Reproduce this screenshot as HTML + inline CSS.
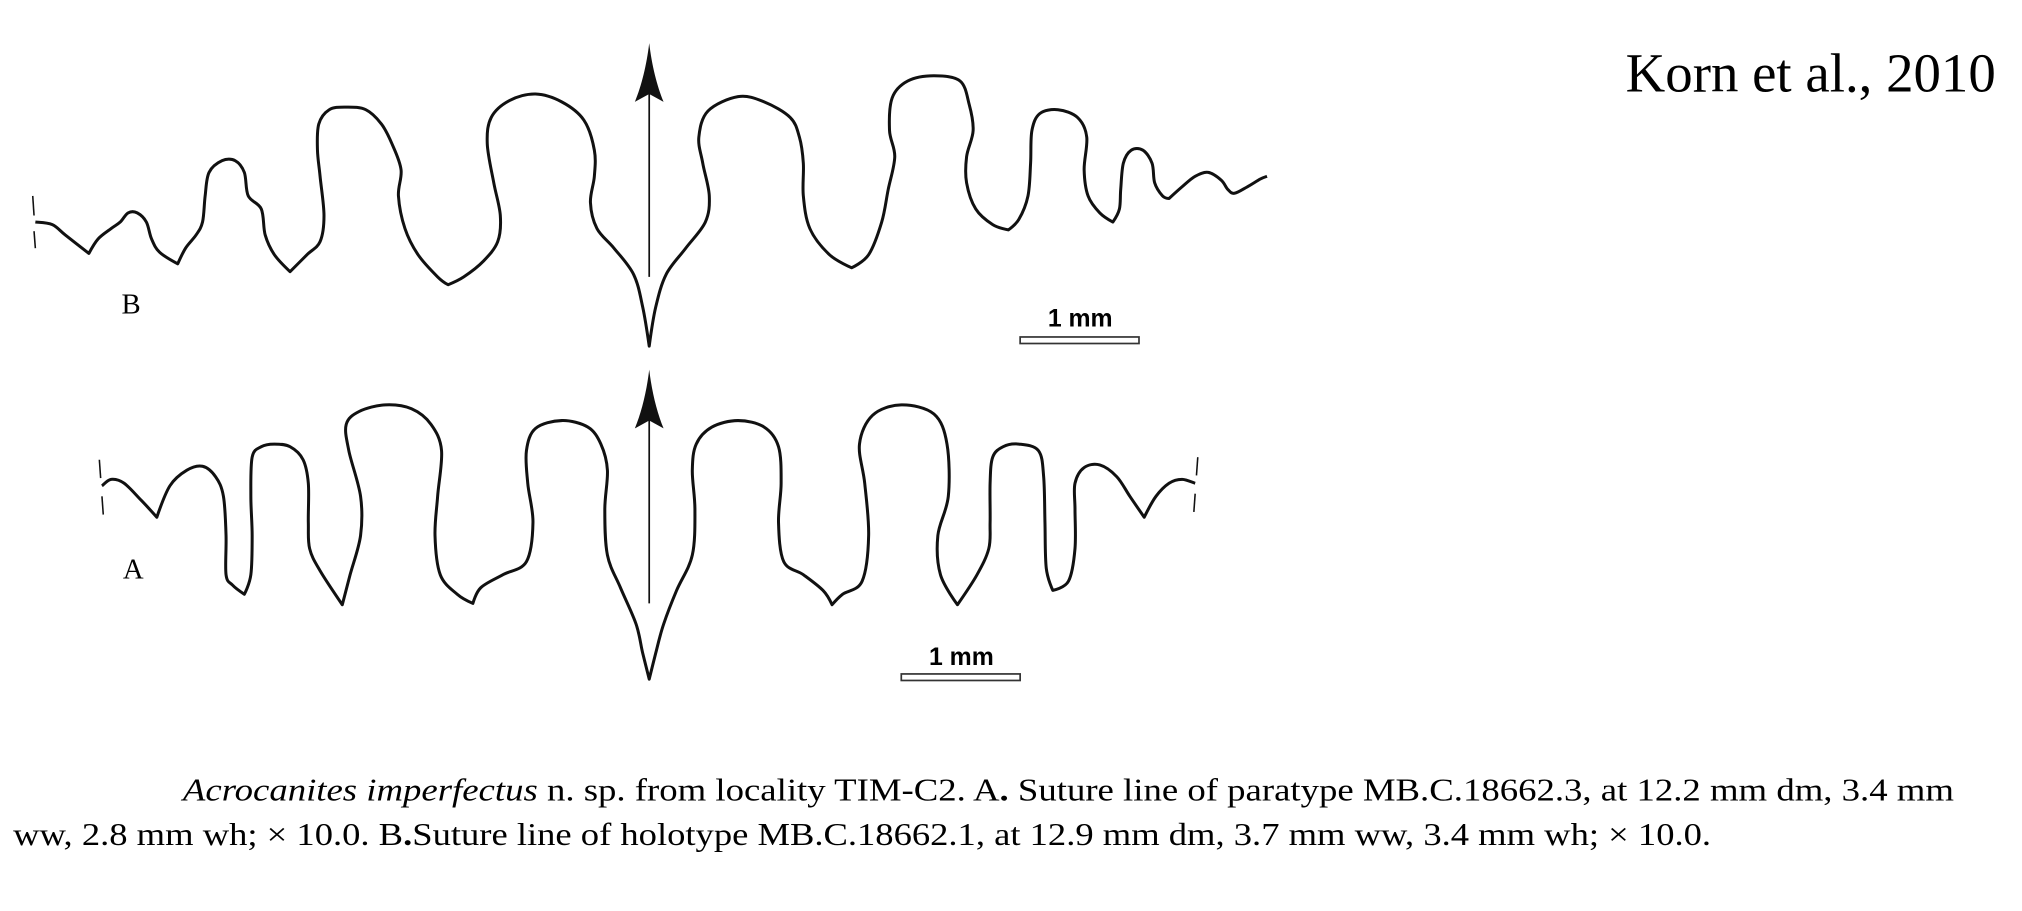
<!DOCTYPE html>
<html><head><meta charset="utf-8">
<style>
html,body{margin:0;padding:0;background:#fff;}
svg{display:block;}
</style></head>
<body>
<svg id="fig" width="2022" height="911" viewBox="0 0 1548 697.5" xmlns="http://www.w3.org/2000/svg">
<text x="1528" y="70" text-anchor="end" font-family="Liberation Serif, serif" font-size="42">Korn et al., 2010</text>
<text x="93" y="240" font-family="Liberation Serif, serif" font-size="22">B</text>
<text x="94" y="443" font-family="Liberation Serif, serif" font-size="22">A</text>
<g id="curves" fill="none" stroke="#111" stroke-width="2.3" stroke-linejoin="round"></g>
<g>
<line x1="497" y1="212" x2="497" y2="60" stroke="#111" stroke-width="1.3"/>
<path d="M497 33 C499 50 503 66 508 78 L497 72 L486 78 C491 66 495 50 497 33 Z" fill="#111"/>
</g>
<g>
<line x1="497" y1="462" x2="497" y2="310" stroke="#111" stroke-width="1.3"/>
<path d="M497 283 C499 300 503 316 508 328 L497 322 L486 328 C491 316 495 300 497 283 Z" fill="#111"/>
</g>
<g>
<text x="827" y="250" text-anchor="middle" font-family="Liberation Sans, sans-serif" font-weight="bold" font-size="19">1 mm</text>
<rect x="781" y="258" width="91" height="5" fill="#fff" stroke="#333" stroke-width="1.3"/>
</g>
<g>
<text x="736" y="509" text-anchor="middle" font-family="Liberation Sans, sans-serif" font-weight="bold" font-size="19">1 mm</text>
<rect x="690" y="516" width="91" height="5" fill="#fff" stroke="#333" stroke-width="1.3"/>
</g>
<g stroke="#111" stroke-width="1.2">
<line x1="25" y1="150" x2="26" y2="165"/><line x1="26" y1="177" x2="27" y2="190"/>
<line x1="76" y1="352" x2="77" y2="366"/><line x1="78" y1="380" x2="79" y2="394"/>
<line x1="917" y1="350" x2="916" y2="364"/><line x1="915" y1="378" x2="914" y2="392"/>
</g>
<text x="140" y="613" font-family="Liberation Serif, serif" font-size="24" textLength="1356" lengthAdjust="spacingAndGlyphs"><tspan font-style="italic">Acrocanites imperfectus</tspan> n. sp. from locality TIM-C2. A<tspan font-weight="bold">.</tspan> Suture line of paratype MB.C.18662.3, at 12.2 mm dm, 3.4 mm</text>
<text x="10" y="647" font-family="Liberation Serif, serif" font-size="24" textLength="1300" lengthAdjust="spacingAndGlyphs">ww, 2.8 mm wh; × 10.0. B<tspan font-weight="bold">.</tspan>Suture line of holotype MB.C.18662.1, at 12.9 mm dm, 3.7 mm ww, 3.4 mm wh; × 10.0.</text>
</svg>
<script>
const suturB = [[27,170],[40,172],[50,180],[68,194],[75,183],[85,175],[92,170],[98,163],[105,163],[112,170],[116,183],[122,193],[136,202],[142,190],[150,180],[155,170],[157,150],[160,132],[170,123],[180,123],[187,132],[190,150],[200,160],[203,180],[210,195],[222,208],[235,195],[245,185],[248,165],[245,135],[243,115],[244,95],[252,84],[265,82],[280,84],[292,95],[300,110],[307,130],[305,150],[310,175],[320,195],[335,212],[343,218],[355,212],[370,200],[381,185],[383,165],[378,140],[373,110],[376,90],[390,77],[410,72],[430,78],[447,92],[455,115],[455,135],[452,155],[457,175],[470,190],[485,210],[492,235],[497,265],[502,235],[510,210],[525,190],[540,170],[543,150],[538,125],[535,105],[542,85],[565,74],[585,78],[605,90],[612,105],[615,125],[615,150],[620,175],[635,195],[652,205],[665,195],[675,170],[680,145],[685,120],[681,100],[683,75],[695,62],[715,58],[735,62],[742,80],[745,100],[740,120],[740,140],[747,160],[760,172],[772,176],[780,168],[787,150],[789,125],[790,100],[796,87],[810,84],[825,90],[832,105],[830,130],[833,150],[842,163],[852,170],[857,160],[858,145],[860,125],[866,115],[875,115],[882,125],[884,140],[890,150],[895,152],[905,143],[915,135],[925,132],[935,138],[940,145],[945,148],[955,143],[965,137],[970,135]];
const suturA = [[78,372],[85,367],[95,370],[108,383],[120,396],[130,372],[143,360],[155,357],[165,365],[171,380],[173,410],[173,440],[178,448],[187,455],[192,440],[193,410],[192,380],[193,350],[200,342],[210,340],[222,342],[232,352],[236,370],[236,400],[237,420],[245,437],[262,463],[268,440],[276,410],[276,380],[267,345],[265,325],[275,315],[295,310],[315,313],[330,325],[338,345],[335,380],[333,410],[337,440],[350,455],[362,462],[368,450],[385,440],[403,430],[408,400],[404,370],[403,345],[410,328],[430,322],[450,327],[460,340],[465,360],[463,390],[465,425],[475,450],[487,478],[492,500],[497,520],[502,500],[508,478],[518,452],[530,425],[532,390],[530,360],[533,340],[545,327],[565,322],[585,327],[596,342],[598,370],[596,400],[600,430],[615,440],[630,452],[637,463],[645,455],[660,445],[665,410],[662,370],[658,340],[668,318],[690,310],[715,317],[725,340],[726,380],[718,410],[720,440],[733,463],[748,440],[757,420],[758,400],[758,370],[760,350],[768,342],[780,340],[795,345],[799,365],[800,400],[801,435],[806,452],[818,445],[823,420],[823,390],[823,370],[830,358],[842,356],[855,365],[865,380],[876,396],[885,380],[895,370],[905,367],[915,370]];
const sharp = [[68,194],[136,202],[222,208],[343,218],[497,265],[652,205],[772,176],[852,170],[895,152],[120,396],[187,455],[262,463],[362,462],[497,520],[637,463],[733,463],[806,452],[876,396]];
function isSharp(p){return sharp.some(s=>s[0]===p[0]&&s[1]===p[1]);}
function pathFrom(pts){
  let d='M'+pts[0][0]+' '+pts[0][1];
  for(let i=0;i<pts.length-1;i++){
    const p0=pts[Math.max(0,i-1)],p1=pts[i],p2=pts[i+1],p3=pts[Math.min(pts.length-1,i+2)];
    const t1=isSharp(p1)?0:1/6, t2=isSharp(p2)?0:1/6;
    const c1=[p1[0]+(p2[0]-p0[0])*t1,p1[1]+(p2[1]-p0[1])*t1];
    const c2=[p2[0]-(p3[0]-p1[0])*t2,p2[1]-(p3[1]-p1[1])*t2];
    d+=' C'+c1[0].toFixed(1)+' '+c1[1].toFixed(1)+' '+c2[0].toFixed(1)+' '+c2[1].toFixed(1)+' '+p2[0]+' '+p2[1];
  }
  return d;
}
const g=document.getElementById('curves');
const pb=document.createElementNS('http://www.w3.org/2000/svg','path');
pb.setAttribute('d',pathFrom(suturB));


g.appendChild(pb);
const pa=document.createElementNS('http://www.w3.org/2000/svg','path');
pa.setAttribute('d',pathFrom(suturA));


g.appendChild(pa);
</script>
</body></html>
